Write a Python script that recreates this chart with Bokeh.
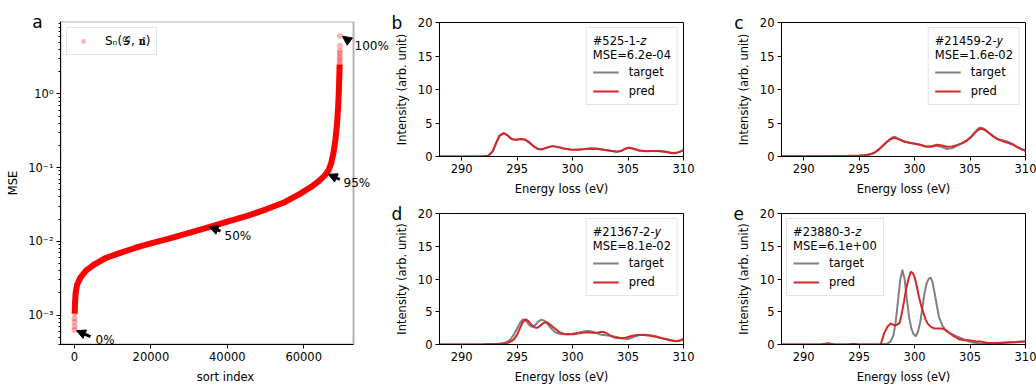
from bokeh.plotting import figure
from bokeh.models import (Range1d, FixedTicker, Label, Arrow, NormalHead, Legend, LegendItem,
                          BoxAnnotation)
from bokeh.layouts import row, column
from bokeh.embed import file_html
from bokeh.resources import INLINE

# ---------------- data: panel a (sorted MSE) ----------------
sort_index = [0, 5, 10, 20, 50, 150, 300, 700, 1500, 3000, 5000, 8000, 12000, 16000,
              20000, 25000, 30000, 35000, 40000, 45000, 50000, 55000, 59000, 62000,
              64000, 65500, 66500, 67200, 67800, 68300, 68700, 69000, 69200, 69320,
              69380, 69410, 69420, 69430, 69440, 69450, 69460, 69470, 69480]
mse_sorted = [6.3e-4, 7.0e-4, 8.1e-4, 9.0e-4, 1.05e-3, 1.5e-3, 2.0e-3, 2.6e-3, 3.2e-3,
              4.0e-3, 4.8e-3, 5.9e-3, 7.0e-3, 8.2e-3, 9.4e-3, 1.1e-2, 1.3e-2, 1.55e-2,
              1.85e-2, 2.2e-2, 2.7e-2, 3.4e-2, 4.4e-2, 5.5e-2, 6.6e-2, 7.8e-2, 9.2e-2,
              0.115, 0.16, 0.24, 0.38, 0.65, 1.1, 1.7, 2.2, 2.5, 2.75, 2.97, 3.22, 3.54,
              3.84, 4.48, 6.1]
idx_ticks = [0, 20000, 40000, 60000]
mse_ticks = [1e-3, 1e-2, 1e-1, 1.0]
mse_tick_labels = ["10\u207b\u00b3", "10\u207b\u00b2", "10\u207b\u00b9", "10\u2070"]
pct_labels = ["0%", "50%", "95%", "100%"]

# ---------------- data: spectra ----------------
e_ticks = [290, 295, 300, 305, 310]
i_ticks = [0, 5, 10, 15, 20]

b_e = [288, 290, 292, 292.4, 292.8, 293.1, 293.4, 293.8, 294.1, 294.5, 294.9, 295.3, 295.7,
       296.1, 296.5, 296.9, 297.3, 297.8, 298.2, 298.7, 299.2, 299.8, 300.4, 301.0, 301.6,
       302.2, 302.8, 303.4, 304.0, 304.4, 304.8, 305.1, 305.5, 306.0, 306.6, 307.2, 307.8,
       308.4, 309.0, 309.4, 309.8, 310]
b_target = [0, 0, 0.02, 0.1, 0.75, 1.95, 3.05, 3.45, 3.2, 2.62, 2.48, 2.6, 2.5, 2.1, 1.52,
            1.12, 1.1, 1.38, 1.55, 1.42, 1.2, 1.05, 1.0, 1.08, 1.2, 1.15, 1.02, 0.85, 0.72,
            0.85, 1.18, 1.3, 1.15, 0.9, 0.82, 0.82, 0.8, 0.7, 0.52, 0.55, 0.8, 0.95]
b_pred = [0, 0, 0.02, 0.1, 0.8, 2.0, 3.1, 3.5, 3.2, 2.6, 2.5, 2.6, 2.55, 2.1, 1.5, 1.1, 1.1,
          1.4, 1.55, 1.4, 1.2, 1.05, 1.0, 1.1, 1.2, 1.15, 1.0, 0.85, 0.7, 0.85, 1.2, 1.3,
          1.15, 0.9, 0.8, 0.82, 0.82, 0.7, 0.5, 0.55, 0.8, 0.95]

c_e = [288, 290, 292, 294, 295, 295.5, 296.0, 296.4, 296.8, 297.2, 297.6, 298.0, 298.2,
       298.5, 299.0, 299.5, 300.0, 300.5, 301.0, 301.5, 302.0, 302.5, 302.9, 303.4, 303.8,
       304.3, 304.7, 305.1, 305.5, 305.8, 306.0, 306.3, 306.7, 307.1, 307.5, 308.0, 308.4,
       308.9, 309.3, 309.7, 310]
c_target = [0.02, 0.03, 0.05, 0.08, 0.12, 0.18, 0.3, 0.55, 1.05, 1.7, 2.35, 2.85, 2.95, 2.7,
            2.3, 2.1, 1.95, 1.75, 1.5, 1.45, 1.6, 1.4, 1.1, 1.25, 1.6, 2.0, 2.4, 3.0, 3.75,
            4.25, 4.3, 4.1, 3.55, 3.0, 2.6, 2.4, 2.2, 1.8, 1.35, 1.05, 0.85]
c_pred = [0.02, 0.03, 0.05, 0.1, 0.15, 0.2, 0.35, 0.6, 1.1, 1.7, 2.3, 2.75, 2.8, 2.6, 2.25,
          2.05, 1.9, 1.75, 1.5, 1.5, 1.75, 1.65, 1.45, 1.5, 1.7, 2.0, 2.35, 2.9, 3.6, 4.05,
          4.15, 4.0, 3.5, 3.0, 2.55, 2.25, 2.05, 1.75, 1.35, 1.05, 0.9]

d_target_e = [288, 292, 293.5, 294.0, 294.4, 294.7, 295.0, 295.3, 295.55, 295.8, 296.1,
              296.35, 296.6, 296.9, 297.2, 297.5, 297.8, 298.1, 298.4, 298.8, 299.2, 299.6,
              300.0, 300.5, 301.0, 301.4, 301.8, 302.2, 302.6, 303.0, 303.5, 304.0, 304.5,
              305.0, 305.5, 306.0, 306.5, 307.0, 307.5, 308.0, 308.5, 309.0, 309.5, 310]
d_target = [0, 0.02, 0.1, 0.3, 0.75, 1.5, 2.45, 3.4, 3.85, 3.6, 2.95, 2.7, 2.9, 3.5, 3.8,
            3.6, 3.0, 2.4, 1.9, 1.65, 1.55, 1.55, 1.65, 1.8, 2.0, 2.05, 1.95, 1.7, 1.5, 1.4,
            1.3, 1.15, 0.9, 0.85, 1.15, 1.45, 1.5, 1.4, 1.25, 1.0, 0.8, 0.6, 0.55, 0.8]
d_pred_e = [288, 292, 293.8, 294.3, 294.7, 295.0, 295.25, 295.5, 295.75, 296.0, 296.3, 296.6,
            296.85, 297.1, 297.4, 297.7, 298.0, 298.4, 298.8, 299.2, 299.6, 300.1, 300.6,
            301.1, 301.5, 301.9, 302.3, 302.65, 303.0, 303.4, 303.8, 304.3, 304.8, 305.3,
            305.8, 306.4, 307.0, 307.6, 308.2, 308.8, 309.3, 309.7, 310]
d_pred = [0, 0.02, 0.1, 0.35, 0.75, 1.5, 2.45, 3.4, 3.85, 3.6, 3.0, 2.6, 2.55, 2.9, 3.3, 3.4,
          3.0, 2.45, 1.9, 1.62, 1.55, 1.55, 1.7, 1.85, 1.85, 1.8, 1.85, 1.95, 1.8, 1.35,
          1.05, 0.95, 1.05, 1.3, 1.45, 1.45, 1.35, 1.15, 0.9, 0.65, 0.5, 0.6, 0.85]

e_target_e = [288, 296, 297.0, 297.5, 297.8, 298.1, 298.3, 298.5, 298.7, 298.9, 299.1, 299.3,
              299.5, 299.7, 299.9, 300.1, 300.3, 300.5, 300.7, 300.9, 301.1, 301.3, 301.45,
              301.6, 301.8, 302.0, 302.2, 302.5, 302.8, 303.2, 303.7, 304.2, 304.7, 305.2,
              306.0, 307.0, 308.0, 309.0, 310]
e_target = [0, 0, 0.02, 0.1, 0.4, 1.4, 3.5, 6.6, 9.8, 11.4, 10.0, 7.0, 4.2, 2.5, 1.6, 1.25,
            1.9, 3.3, 5.6, 7.9, 9.4, 10.1, 10.2, 9.6, 7.9, 6.0, 4.2, 2.9, 2.2, 1.75, 1.3, 0.97,
            0.6, 0.3, 0.15, 0.2, 0.3, 0.4, 0.5]
e_pred_e = [288, 291.5, 292.2, 292.8, 294.0, 294.5, 295.0, 296.5, 296.95, 297.25, 297.55,
            297.85, 298.15, 298.4, 298.65, 298.85, 299.05, 299.25, 299.45, 299.65, 299.85,
            300.0, 300.2, 300.4, 300.6, 300.8, 301.0, 301.2, 301.5, 301.8, 302.1, 302.5,
            302.8, 303.1, 303.5, 304.0, 304.5, 305.0, 305.5, 306.0, 306.6, 307.2, 307.8,
            308.5, 309.2, 310]
e_pred = [0, 0, 0.2, 0, 0, 0.12, 0, 0, 0.05, 1.7, 2.7, 3.2, 2.95, 3.0, 3.3, 4.8, 6.6, 8.6,
          10.0, 11.1, 10.9, 10.3, 8.9, 7.2, 5.9, 4.8, 3.8, 3.15, 2.65, 2.45, 2.45, 2.45, 2.2,
          1.8, 1.3, 0.8, 0.63, 0.63, 0.5, 0.44, 0.24, 0.24, 0.24, 0.3, 0.36, 0.45]

# ---------------- styling ----------------
FONT = "DejaVu Sans"
FS = "11.5px"
GREY = "#808080"
RED = "#d62728"


def style(p):
    for ax in p.axis:
        ax.axis_line_color = "black"
        ax.major_tick_line_color = "black"
        ax.minor_tick_line_color = None
        ax.major_tick_out = 4
        ax.major_tick_in = 0
        ax.major_label_text_font = FONT
        ax.major_label_text_font_size = FS
        ax.major_label_text_color = "black"
        ax.major_label_standoff = 3
        ax.axis_label_text_font = FONT
        ax.axis_label_text_font_size = FS
        ax.axis_label_text_font_style = "normal"
        ax.axis_label_text_color = "black"
        ax.axis_label_standoff = 6
    p.grid.visible = False
    p.outline_line_color = "black"
    p.outline_line_alpha = 1.0
    p.background_fill_color = "white"
    p.border_fill_color = "white"


def free_label(p, x, y, txt, size, align, baseline, side=None):
    # labels placed in a side panel are not clipped to the plot frame
    lab = Label(x=x, y=y, text=txt, text_font=FONT, text_font_size=size,
                text_align=align, text_baseline=baseline, text_color="black")
    if side is None:
        p.add_layout(lab)
    else:
        p.add_layout(lab, side)


def spectrum(w, h, bl, br, bt, bb, te, tv, pe, pv, title, loc, letter):
    p = figure(width=w, height=h, min_border_left=bl, min_border_right=br,
               min_border_top=bt, min_border_bottom=bb,
               x_range=Range1d(288, 310), y_range=Range1d(0, 20),
               output_backend="svg", toolbar_location=None)
    p.xaxis.ticker = FixedTicker(ticks=e_ticks)
    p.yaxis.ticker = FixedTicker(ticks=i_ticks)
    p.xaxis.axis_label = "Energy loss (eV)"
    p.yaxis.axis_label = "Intensity (arb. unit)"
    r1 = p.line(te, tv, line_color=GREY, line_width=2)
    r2 = p.line(pe, pv, line_color=RED, line_width=2)
    leg = Legend(items=[LegendItem(label="target", renderers=[r1]),
                        LegendItem(label="pred", renderers=[r2])],
                 location=loc, title=title)
    leg.title_text_font = FONT
    leg.title_text_font_size = FS
    leg.title_text_font_style = "normal"
    leg.title_text_color = "black"
    leg.title_standoff = 3
    leg.label_text_font = FONT
    leg.label_text_font_size = FS
    leg.label_text_color = "black"
    leg.glyph_width = 26
    leg.glyph_height = 14
    leg.label_height = 14
    leg.label_standoff = 10
    leg.spacing = 5
    leg.padding = 6
    leg.margin = 5
    leg.border_line_color = "#cccccc"
    leg.border_line_width = 1
    leg.background_fill_alpha = 0.85
    p.add_layout(leg)
    style(p)
    free_label(p, 284.15, 20.0, letter, "17px", "center", "alphabetic", "right")
    return p


# ---------------- panel a ----------------
# the frame runs to the right edge of the canvas so that the "95%"/"100%" labels are
# not clipped; the visible axes box is drawn with axis bounds and a box annotation.
X_LO, X_HI = -3665, 73040
Y_LO, Y_HI = 4.0e-4, 9.57
pa = figure(width=390, height=386, min_border_left=60, min_border_right=0,
            min_border_top=21, min_border_bottom=38,
            x_range=Range1d(X_LO, 82720), y_range=Range1d(Y_LO, Y_HI),
            y_axis_type="log", output_backend="svg", toolbar_location=None)
minor = [m * 10.0 ** k for k in range(-4, 1) for m in range(2, 10) if Y_LO <= m * 10.0 ** k <= Y_HI]
pa.yaxis.ticker = FixedTicker(ticks=mse_ticks, minor_ticks=minor)
pa.yaxis.major_label_overrides = {t: s for t, s in zip(mse_ticks, mse_tick_labels)}
pa.xaxis.ticker = FixedTicker(ticks=idx_ticks)
pa.xaxis.bounds = (X_LO, X_HI)
pa.xaxis.axis_label = "sort index"
pa.yaxis.axis_label = "MSE"

pa.add_layout(BoxAnnotation(left=X_LO, right=X_HI, bottom=Y_LO, top=Y_HI,
                            fill_color=None, line_color="black", line_width=2,
                            level="underlay"))

sc = pa.scatter(sort_index, mse_sorted, size=6, fill_color="red", fill_alpha=0.3,
                line_color=None)
pa.line(sort_index[4:-7], mse_sorted[4:-7], line_color="red", line_width=6)

leg_a = Legend(items=[LegendItem(label="S\u2099(\U0001D4A2, \U0001D427\u0302)", renderers=[sc])],
               location="top_left")
leg_a.label_text_font = FONT
leg_a.label_text_font_size = "12px"
leg_a.label_text_color = "black"
leg_a.glyph_width = 20
leg_a.glyph_height = 12
leg_a.label_height = 12
leg_a.label_standoff = 12
leg_a.padding = 6
leg_a.margin = 6
leg_a.border_line_color = "#cccccc"
leg_a.background_fill_alpha = 0.85
pa.add_layout(leg_a)

arrows = [((4188, 5.12e-4), (524, 6.16e-4)),
          ((38220, 0.01374), (35260, 0.01585)),
          ((69450, 0.0690), (66410, 0.0813)),
          ((72120, 5.09), (70160, 6.04))]
for (xs, ys), (xe, ye) in arrows:
    pa.add_layout(Arrow(end=NormalHead(size=9, fill_color="black", line_color="black"),
                        x_start=xs, y_start=ys, x_end=xe, y_end=ye,
                        line_width=3, line_color="black"))
label_pos = [(5500, 4.67e-4), (39270, 0.0119), (70420, 0.0612), (73300, 4.43)]
for (lx, ly), txt in zip(label_pos, pct_labels):
    free_label(pa, lx, ly, txt, "12px", "left", "middle")

style(pa)
pa.outline_line_color = None
pa.yaxis.minor_tick_line_color = "black"
pa.yaxis.minor_tick_out = 2
pa.yaxis.minor_tick_in = 0
pa.yaxis.axis_label_standoff = 5
free_label(pa, -9690, Y_HI, "a", "17px", "center", "alphabetic", "above")

# ---------------- panels b-e ----------------
pb = spectrum(341, 198, 49, 48, 22, 40, b_e, b_target, b_e, b_pred,
              "#525-1-\U0001D467\nMSE=6.2e-04", "top_right", "b")
pc = spectrum(305, 198, 50, 11, 22, 40, c_e, c_target, c_e, c_pred,
              "#21459-2-\U0001D466\nMSE=1.6e-02", "top_right", "c")
pd_ = spectrum(341, 188, 49, 48, 15, 37, d_target_e, d_target, d_pred_e, d_pred,
               "#21367-2-\U0001D466\nMSE=8.1e-02", "top_right", "d")
pe = spectrum(305, 188, 50, 11, 15, 37, e_target_e, e_target, e_pred_e, e_pred,
              "#23880-3-\U0001D467\nMSE=6.1e+00", "top_left", "e")

layout = row(pa, column(row(pb, pc), row(pd_, pe)))
open("out.html", "w").write(file_html(layout, INLINE))
